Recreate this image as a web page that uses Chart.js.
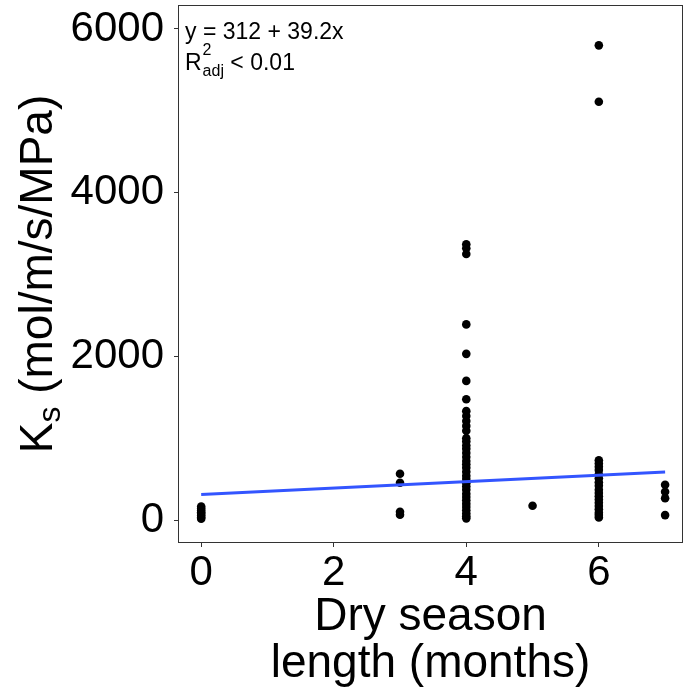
<!DOCTYPE html>
<html>
<head>
<meta charset="utf-8">
<script src="https://cdn.jsdelivr.net/npm/chart.js@4"></script>
<style>
  html, body { margin: 0; padding: 0; background: #fff; }
  #wrap { width: 684px; height: 694px; }
</style>
</head>
<body>
<div id="wrap"><canvas id="chart" width="684" height="694"></canvas></div>
<script>
// ===== Dados =====
const months = [0, 3, 4, 5, 6, 7];
const ks0 = [15, 35, 55, 75, 95, 115, 140, 165];
const ks3 = [565, 455, 100, 65];
const ks4 = [3370, 3320, 3250, 2390, 2030, 1700, 1475, 1330, 1270, 1210, 1150, 1090,
             1000, 960, 910, 870, 820, 770, 720, 680, 640, 590, 540, 500, 450, 410,
             370, 320, 280, 240, 200, 160, 120, 80, 45, 20];
const ks5 = [175];
const ks6 = [5800, 5110, 730, 690, 650, 610, 560, 510, 460, 420, 370, 330, 290, 250,
             210, 170, 130, 90, 60, 30];
const ks7 = [430, 345, 265, 60];

// reta ajustada: y = 312 + 39.2x
const fitX = [0, 7];
const fitY = [312, 586.4];

const xTicks = [0, 2, 4, 6];
const yTicks = [0, 2000, 4000, 6000];

const FONT = '"Liberation Sans", Arial, sans-serif';

// ===== Montar pontos =====
const groups = [ks0, ks3, ks4, ks5, ks6, ks7];
const pts = [];
groups.forEach((g, i) => g.forEach(v => pts.push({ x: months[i], y: v })));
const fitPts = fitX.map((x, i) => ({ x, y: fitY[i] }));

// ===== Títulos, anotação e moldura =====
const extras = {
  id: 'extras',
  afterDraw(chart) {
    const ctx = chart.ctx;
    const a = chart.chartArea;
    ctx.save();

    // moldura do painel
    ctx.strokeStyle = '#333';
    ctx.lineWidth = 1;
    ctx.strokeRect(a.left + 0.5, a.top + 0.5, a.right - a.left - 1, a.bottom - a.top - 1);

    ctx.fillStyle = '#000';
    ctx.textBaseline = 'alphabetic';

    // título eixo x
    ctx.font = '46px ' + FONT;
    ctx.textAlign = 'center';
    const cx = (a.left + a.right) / 2;
    ctx.fillText('Dry season', cx, a.bottom + 87);
    ctx.fillText('length (months)', cx, a.bottom + 134);

    // título eixo y: K_s (mol/m/s/MPa)
    const cy = (a.top + a.bottom) / 2;
    ctx.translate(52, cy);
    ctx.rotate(-Math.PI / 2);
    ctx.textAlign = 'left';
    const big = '46px ' + FONT, small = '32px ' + FONT;
    ctx.font = big;
    const wK = ctx.measureText('K').width;
    const wRest = ctx.measureText(' (mol/m/s/MPa)').width;
    ctx.font = small;
    const wS = ctx.measureText('s').width;
    let x0 = -(wK + wS + wRest) / 2;
    ctx.font = big;
    ctx.fillText('K', x0, 0);
    ctx.font = small;
    ctx.fillText('s', x0 + wK, 8);
    ctx.font = big;
    ctx.fillText(' (mol/m/s/MPa)', x0 + wK + wS, 0);
    ctx.setTransform(1, 0, 0, 1, 0, 0);

    // anotação
    const tx = a.left + 7;
    ctx.textAlign = 'left';
    ctx.font = '23px ' + FONT;
    ctx.fillText('y = 312 + 39.2x', tx, a.top + 34);
    ctx.fillText('R', tx, a.top + 65);
    const wR = ctx.measureText('R').width;
    ctx.font = '16px ' + FONT;
    ctx.fillText('2', tx + wR + 1, a.top + 50);
    ctx.fillText('adj', tx + wR + 1, a.top + 71);
    const wAdj = ctx.measureText('adj').width;
    ctx.font = '23px ' + FONT;
    ctx.fillText(' < 0.01', tx + wR + 1 + wAdj, a.top + 65);

    ctx.restore();
  }
};

new Chart(document.getElementById('chart'), {
  type: 'scatter',
  data: {
    datasets: [
      {
        type: 'line',
        data: fitPts,
        borderColor: '#3355FF',
        borderWidth: 3,
        pointRadius: 0,
        fill: false
      },
      {
        data: pts,
        backgroundColor: '#000',
        borderColor: '#000',
        borderWidth: 0,
        pointRadius: 4.3
      }
    ]
  },
  options: {
    responsive: false,
    animation: false,
    layout: { autoPadding: false, padding: { top: 5, right: 1, left: 0, bottom: 0 } },
    plugins: { legend: { display: false }, tooltip: { enabled: false } },
    scales: {
      x: {
        type: 'linear',
        min: -0.35,
        max: 7.27,
        afterBuildTicks: s => { s.ticks = xTicks.map(v => ({ value: v })); },
        afterFit: s => { s.height = 151; s.paddingLeft = 0; s.paddingRight = 0; },
        grid: { drawOnChartArea: false, drawTicks: true, tickLength: 4, tickColor: '#333' },
        border: { display: false },
        ticks: { color: '#000', font: { family: FONT, size: 42 }, padding: 1, maxRotation: 0,
                 callback: v => String(v) }
      },
      y: {
        type: 'linear',
        min: -281,
        max: 6293,
        afterBuildTicks: s => { s.ticks = yTicks.map(v => ({ value: v })); },
        afterFit: s => { s.width = 178; s.paddingTop = 0; s.paddingBottom = 0; },
        grid: { drawOnChartArea: false, drawTicks: true, tickLength: 4, tickColor: '#333' },
        border: { display: false },
        ticks: { color: '#000', font: { family: FONT, size: 42 }, padding: 10,
                 callback: v => String(v) }
      }
    }
  },
  plugins: [extras]
});
</script>
</body>
</html>
